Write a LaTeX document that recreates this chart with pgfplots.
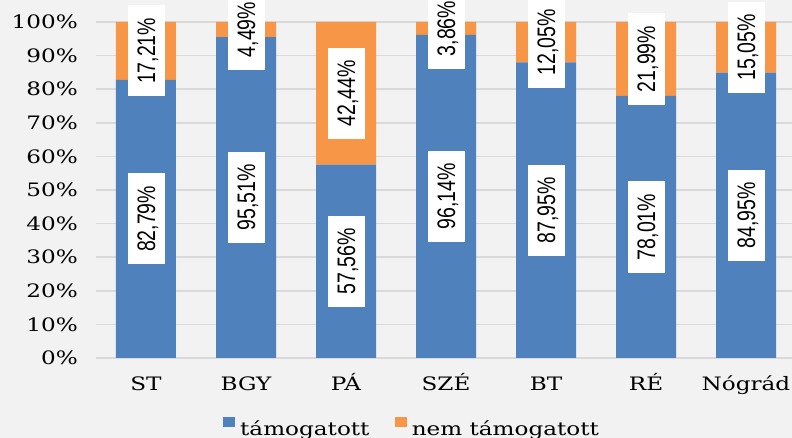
\documentclass[border=0pt]{standalone}
\usepackage{pgfplots}
\pgfplotsset{compat=1.18}
\usepackage{pgfplotstable}
\usepackage{fontspec}
\setmainfont{DejaVu Serif}
\newfontfamily\labelfont{Liberation Sans}
\usepackage{graphicx}
\definecolor{bgc}{HTML}{F2F2F2}
\definecolor{gridc}{HTML}{D9D9D9}
\definecolor{bluec}{HTML}{4F81BD}
\definecolor{orangec}{HTML}{F79646}
\newcommand{\sx}[1]{\scalebox{1.25}[1]{#1}}
\newcommand{\sy}[1]{\scalebox{1}[1.3]{#1}}

\pgfplotstableread{
x b o
0 82.79 17.21
1 95.51 4.49
2 57.56 42.44
3 96.14 3.86
4 87.95 12.05
5 78.01 21.99
6 84.95 15.05
}\data

\pgfplotsset{common/.style={scale only axis, width=700pt, height=336pt,
  xmin=-0.5, xmax=6.5, ymin=0, ymax=100, at={(0,0)}, anchor=south west}}

\begin{document}
\begin{tikzpicture}
\fill[bgc] (-96pt,-80pt) rectangle (696pt,358pt);
\begin{axis}[common,
  ybar stacked, bar width=60pt,
  axis line style={draw=none}, major tick style={draw=none},
  ymajorgrids, grid style={gridc, line width=1.5pt},
  ytick={0,10,...,100},
  yticklabel={\sx{\pgfmathprintnumber[assume math mode=true]{\tick}\%}},
  yticklabel style={anchor=east, inner sep=0pt, xshift=-18pt, font=\fontsize{18.5}{20}\selectfont},
  xtick={0,...,6},
  xticklabels={\sx{ST},\sx{BGY},\sx{PÁ},\sx{SZÉ},\sx{BT},\sx{RÉ},\sx{Nógrád}},
  xticklabel style={anchor=base, inner sep=0pt, yshift=-32.7pt, font=\fontsize{18.5}{20}\selectfont},
  legend columns=2,
  legend style={at={(axis description cs:0.181,-0.205)}, anchor=west, draw=none, fill=none,
    inner sep=0pt, font=\fontsize{18.5}{20}\selectfont,
    nodes={inner sep=0pt},
    /tikz/every odd column/.append style={column sep=5pt},
    /tikz/every even column/.append style={column sep=25pt}},
  legend image code/.code={\fill[#1] (0pt,1.5pt) rectangle (12.3pt,11.5pt);},
]
\addplot[fill=bluec, draw=none] table[x=x,y=b]{\data};
\addplot[fill=orangec, draw=none] table[x=x,y=o]{\data};
\legend{\sx{támogatott},\sx{nem támogatott}}
\end{axis}
\begin{axis}[common, hide axis,
  nodes near coords={\sy{\pgfmathprintnumber[fixed,fixed zerofill,precision=2,use comma,assume math mode=true]{\pgfplotspointmeta}\%}},
  every node near coord/.append style={rotate=90, anchor=center, fill=white,
    font=\labelfont\fontsize{19.5}{21}\selectfont, inner xsep=12.5pt, inner ysep=9.5pt,
    text height=18pt, text depth=0pt},
]
\addplot[draw=none, mark=none, point meta=\thisrow{b}] table[x=x, y expr=\thisrow{b}/2]{\data};
\addplot[draw=none, mark=none, point meta=\thisrow{o}] table[x=x, y expr=\thisrow{b}+\thisrow{o}/2]{\data};
\end{axis}
\pgfresetboundingbox
\useasboundingbox (-96pt,-80pt) rectangle (696pt,358pt);
\end{tikzpicture}
\end{document}
